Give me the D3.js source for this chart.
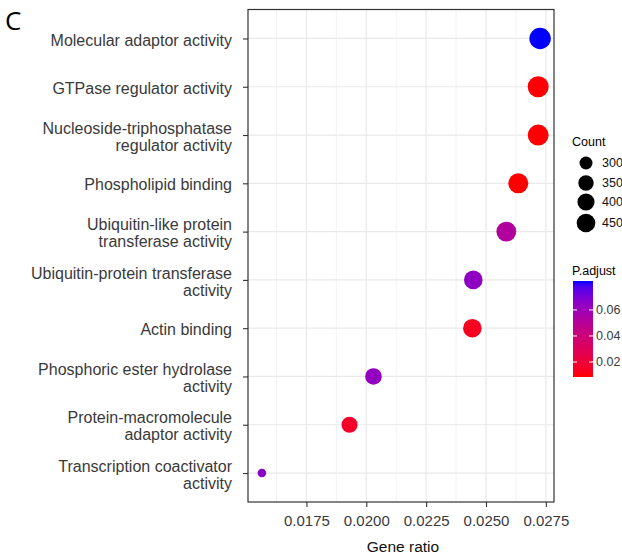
<!DOCTYPE html>
<html>
<head>
<meta charset="utf-8">
<script src="https://cdn.jsdelivr.net/npm/d3@7"></script>
<style>
  body { margin: 0; background: #fff; }
  svg text { font-family: "Liberation Sans", Arial, sans-serif; }
</style>
</head>
<body>
<div id="root"></div>
<script>
// GO terms, top to bottom
var terms = [
  "Molecular adaptor activity",
  "GTPase regulator activity",
  "Nucleoside-triphosphatase\nregulator activity",
  "Phospholipid binding",
  "Ubiquitin-like protein\ntransferase activity",
  "Ubiquitin-protein transferase\nactivity",
  "Actin binding",
  "Phosphoric ester hydrolase\nactivity",
  "Protein-macromolecule\nadaptor activity",
  "Transcription coactivator\nactivity"
];
var geneRatio = [0.02726, 0.02718, 0.02718, 0.02635, 0.02585, 0.02447, 0.02443, 0.0203, 0.0193, 0.01564];
var counts    = [569, 550, 548, 506, 500, 450, 448, 383, 366, 264];
var padjust   = [0.0822, 0.0090, 0.0090, 0.0085, 0.052, 0.064, 0.0135, 0.063, 0.016, 0.066];

var xTicks = [0.0175, 0.0200, 0.0225, 0.0250, 0.0275];
var countBreaks = [300, 350, 400, 450];
var padjBreaks = [0.02, 0.04, 0.06];

var W = 622, H = 556;
var panel = {left: 248, right: 554, top: 9.5, bottom: 502};

var svg = d3.select("#root").append("svg")
  .attr("width", W).attr("height", H);

// scales
var xExt = d3.extent(geneRatio), xPad = (xExt[1] - xExt[0]) * 0.05;
var x = d3.scaleLinear()
  .domain([xExt[0] - xPad, xExt[1] + xPad])
  .range([panel.left, panel.right]);
var y = d3.scalePoint()
  .domain(terms)
  .range([panel.top, panel.bottom])
  .padding(0.6);

// ggplot-like area scale: radius grows with sqrt of rescaled count
var cExt = d3.extent(counts);
var norm = d3.scaleLinear().domain(cExt).range([0, 1]);
var rad = d3.scaleLinear().domain([0, 1]).range([4.3, 10.7]);
function r(c) { return rad(Math.sqrt(Math.max(0, norm(c)))); }

var pExt = d3.extent(padjust);
var color = d3.scaleLinear()
  .domain(pExt)
  .range(["#ff0000", "#0000ff"])
  .interpolate(d3.interpolateLab);

// panel background + grid
svg.append("rect")
  .attr("x", panel.left).attr("y", panel.top)
  .attr("width", panel.right - panel.left).attr("height", panel.bottom - panel.top)
  .attr("fill", "#fff");

var minor = [];
for (var i = 0; i < xTicks.length; i++) minor.push(xTicks[i] - 0.00125);
minor.push(xTicks[xTicks.length - 1] + 0.00125);
minor = minor.filter(function(v) { return x(v) > panel.left && x(v) < panel.right; });

var grid = svg.append("g").attr("class", "grid");
grid.selectAll(".minor").data(minor).enter().append("line")
  .attr("x1", function(d) { return x(d); }).attr("x2", function(d) { return x(d); })
  .attr("y1", panel.top).attr("y2", panel.bottom)
  .attr("stroke", "#f0f0f0").attr("stroke-width", 0.9);
grid.selectAll(".vmajor").data(xTicks).enter().append("line")
  .attr("x1", function(d) { return x(d); }).attr("x2", function(d) { return x(d); })
  .attr("y1", panel.top).attr("y2", panel.bottom)
  .attr("stroke", "#e9e9e9").attr("stroke-width", 1.2);
grid.selectAll(".hmajor").data(terms).enter().append("line")
  .attr("x1", panel.left).attr("x2", panel.right)
  .attr("y1", function(d) { return y(d); }).attr("y2", function(d) { return y(d); })
  .attr("stroke", "#e9e9e9").attr("stroke-width", 1.2);

// points
var pts = terms.map(function(t, i) {
  return {term: t, ratio: geneRatio[i], count: counts[i], p: padjust[i]};
});
svg.append("g").selectAll("circle").data(pts).enter().append("circle")
  .attr("cx", function(d) { return x(d.ratio); })
  .attr("cy", function(d) { return y(d.term); })
  .attr("r", function(d) { return r(d.count); })
  .attr("fill", function(d) { return color(d.p); });

// border
svg.append("rect")
  .attr("x", panel.left).attr("y", panel.top)
  .attr("width", panel.right - panel.left).attr("height", panel.bottom - panel.top)
  .attr("fill", "none").attr("stroke", "#333").attr("stroke-width", 1.2);

// x axis
var xAxis = svg.append("g")
  .attr("transform", "translate(0," + panel.bottom + ")")
  .call(d3.axisBottom(x).tickValues(xTicks).tickFormat(d3.format(".4f")).tickSize(5).tickPadding(8));
xAxis.select(".domain").remove();
xAxis.selectAll("line").attr("stroke", "#333").attr("stroke-width", 1.1);
xAxis.selectAll("text").attr("fill", "#3a3a3a").style("font-size", "15px");

// y axis
var yAxis = svg.append("g")
  .attr("transform", "translate(" + panel.left + ",0)")
  .call(d3.axisLeft(y).tickSize(5).tickPadding(10).tickFormat(""));
yAxis.select(".domain").remove();
yAxis.selectAll("line").attr("stroke", "#333").attr("stroke-width", 1.1);
yAxis.selectAll(".tick").each(function(d) {
  var lines = d.split("\n");
  var t = d3.select(this).append("text")
    .attr("x", -16).attr("fill", "#3a3a3a")
    .attr("text-anchor", "end")
    .style("font-size", "16px");
  var lh = 17;
  lines.forEach(function(s, k) {
    t.append("tspan").attr("x", -16)
      .attr("y", (k - (lines.length - 1) / 2) * lh + 1.5)
      .attr("dy", "0.32em")
      .text(s);
  });
});

// axis title
svg.append("text")
  .attr("x", (panel.left + panel.right) / 2 + 2).attr("y", 552)
  .attr("text-anchor", "middle").attr("fill", "#111")
  .style("font-size", "15.5px")
  .text("Gene ratio");

// panel letter
svg.append("text")
  .attr("x", 5).attr("y", 30)
  .attr("fill", "#000")
  .style("font-size", "26px")
  .style("font-family", "'Open Sans', sans-serif")
  .text("C");

// size legend
var lg = svg.append("g").attr("transform", "translate(572,0)");
lg.append("text").attr("x", 0).attr("y", 146)
  .style("font-size", "12.5px").attr("fill", "#000").text("Count");
var legY = [163, 183, 202, 223];
countBreaks.forEach(function(c, i) {
  lg.append("circle").attr("cx", 14).attr("cy", legY[i]).attr("r", r(c)).attr("fill", "#000");
  lg.append("text").attr("x", 30).attr("y", legY[i]).attr("dy", "0.35em")
    .style("font-size", "12.5px").attr("fill", "#111").text(c);
});

// colour bar
var cb = {x: 573, y: 281, w: 20, h: 96};
lg = svg.append("g");
lg.append("text").attr("x", 572).attr("y", 275)
  .style("font-size", "12.5px").attr("fill", "#000").text("P.adjust");
var defs = svg.append("defs");
var grad = defs.append("linearGradient").attr("id", "pgrad")
  .attr("x1", 0).attr("y1", 1).attr("x2", 0).attr("y2", 0);
d3.range(0, 1.0001, 0.05).forEach(function(t) {
  grad.append("stop").attr("offset", t)
    .attr("stop-color", color(pExt[0] + t * (pExt[1] - pExt[0])));
});
lg.append("rect").attr("x", cb.x).attr("y", cb.y).attr("width", cb.w).attr("height", cb.h)
  .attr("fill", "url(#pgrad)");
var cy = d3.scaleLinear().domain(pExt).range([cb.y + cb.h, cb.y]);
padjBreaks.forEach(function(p) {
  var yy = cy(p);
  lg.append("line").attr("x1", cb.x).attr("x2", cb.x + 4).attr("y1", yy).attr("y2", yy)
    .attr("stroke", "#fff").attr("stroke-width", 1);
  lg.append("line").attr("x1", cb.x + cb.w - 4).attr("x2", cb.x + cb.w).attr("y1", yy).attr("y2", yy)
    .attr("stroke", "#fff").attr("stroke-width", 1);
  lg.append("text").attr("x", cb.x + cb.w + 3).attr("y", yy).attr("dy", "0.35em")
    .style("font-size", "12.5px").attr("fill", "#3a3a3a").text(p.toFixed(2));
});
</script>
</body>
</html>
